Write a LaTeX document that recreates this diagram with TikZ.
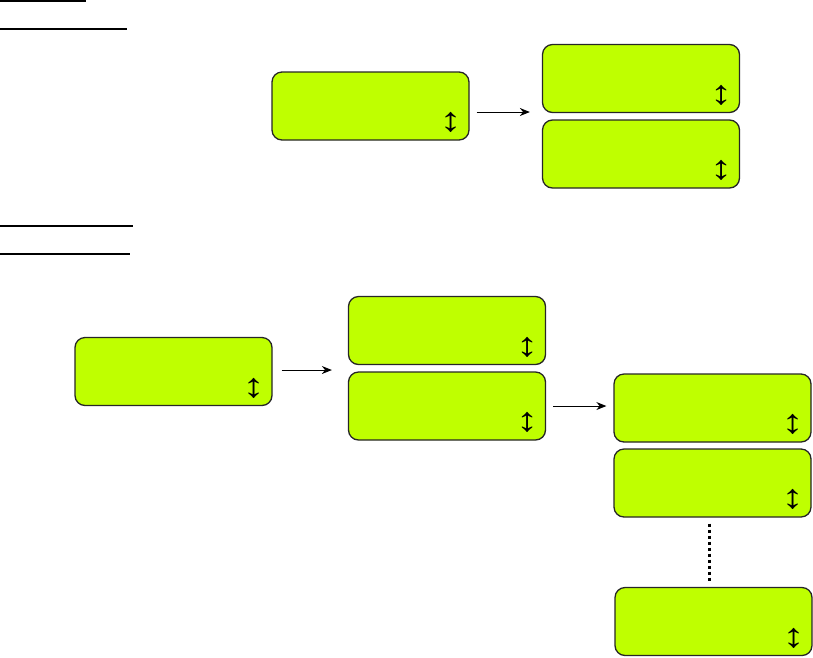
\documentclass[tikz,border=0pt]{standalone}
\usepackage{fontspec}
\newfontfamily\symfont{Liberation Sans}
\usetikzlibrary{arrows.meta}
\definecolor{lcd}{HTML}{BFFF00}
\begin{document}
\begin{tikzpicture}[x=1pt,y=-1pt,
 screen/.style={draw=black!85, line width=1.3pt, fill=lcd, rounded corners=10pt, minimum width=197pt, minimum height=68pt, inner sep=0pt},
 arr/.style={-{Stealth[length=10pt,width=8pt]}, line width=0.9pt},
 ul/.style={line width=2pt},
 updown/.style={font=\symfont\fontsize{34}{34}\selectfont, inner sep=0pt, xscale=1.3},
 dots/.style={line width=3pt, dash pattern=on 3pt off 3pt}]
\useasboundingbox (0,0) rectangle (813,657);
% underlines
\draw[ul] (0,1) -- (86,1);
\draw[ul] (0,29) -- (127,29);
\draw[ul] (0,226) -- (133,226);
\draw[ul] (0,254) -- (130,254);
% screens
\node[screen] (A) at (370.5,106) {};
\node[screen] (B1) at (641,78.5) {};
\node[screen] (B2) at (641,154) {};
\node[screen] (C) at (173.5,371.5) {};
\node[screen] (D1) at (447,330.5) {};
\node[screen] (D2) at (447,406) {};
\node[screen] (E1) at (712.5,408) {};
\node[screen] (E2) at (712.5,483) {};
\node[screen] (E3) at (713.5,621.5) {};
\foreach \n in {A,B1,B2,C,D1,D2,E1,E2,E3}
  \node[updown] (\n s) at ([shift={(-19,-18)}]\n.south east) {↕};
% connectors
\draw[arr] ([shift={(7,6)}]A.east) -- ([shift={(-12,6)}]A.east -| B1.west);
\draw[arr] ([shift={(9,-1.5)}]C.east) -- ([shift={(-16,-1.5)}]C.east -| D1.west);
\draw[arr] ([xshift=7]D2.east) -- ([xshift=-7]D2.east -| E1.west);
\draw[dots] ([shift={(-3.5,6)}]E2.south) -- ([shift={(-4.5,-4)}]E3.north);
\end{tikzpicture}
\end{document}
